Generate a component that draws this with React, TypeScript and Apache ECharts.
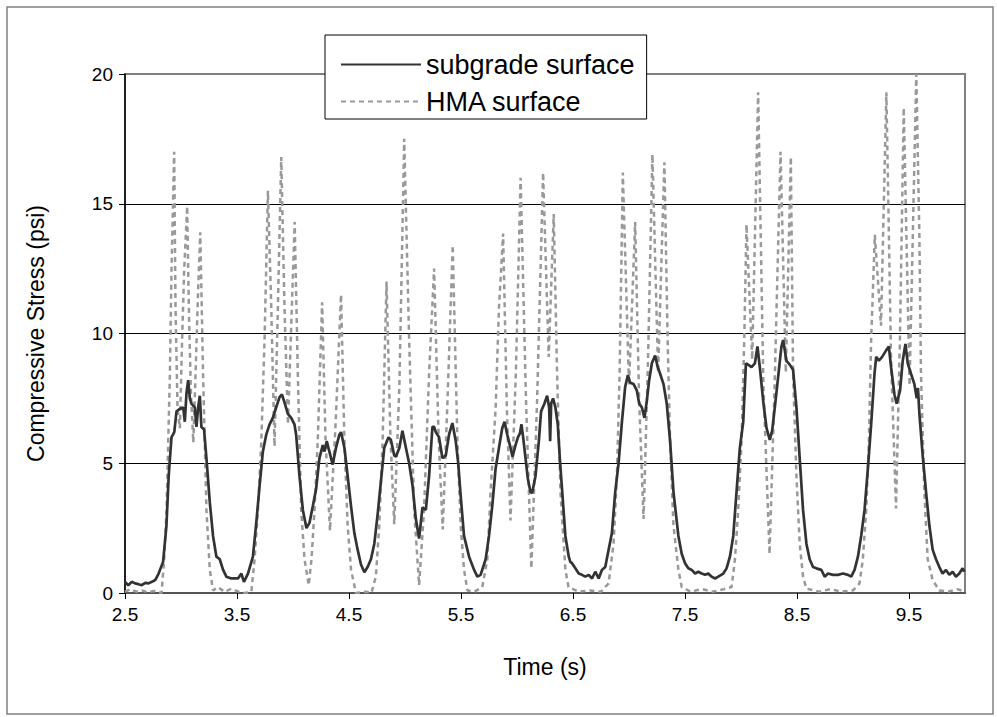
import React, { useEffect, useRef } from "react";
import * as echarts from "echarts";

const xTickValues = [2.5, 3.5, 4.5, 5.5, 6.5, 7.5, 8.5, 9.5];
const seriesNames = ["subgrade surface", "HMA surface"];

const subgradeTime = [
  2.5, 2.53, 2.56, 2.59, 2.62, 2.65, 2.68, 2.71, 2.74, 2.77, 2.8, 2.84, 2.87, 2.89, 2.915, 2.94, 2.96, 2.99, 3.02, 3.034,
  3.049, 3.064, 3.079, 3.093, 3.123, 3.138, 3.153, 3.168, 3.182, 3.206, 3.227, 3.257, 3.286, 3.316, 3.346, 3.375, 3.405, 3.45, 3.509, 3.539,
  3.562, 3.598, 3.642, 3.672, 3.702, 3.731, 3.761, 3.791, 3.82, 3.85, 3.88, 3.901, 3.924, 3.954, 3.984, 4.013, 4.028, 4.058, 4.088, 4.12,
  4.147, 4.177, 4.206, 4.236, 4.266, 4.281, 4.301, 4.325, 4.354, 4.384, 4.414, 4.429, 4.459, 4.488, 4.518, 4.548, 4.577, 4.607, 4.637, 4.666,
  4.696, 4.726, 4.755, 4.785, 4.815, 4.853, 4.874, 4.904, 4.919, 4.95, 4.977, 5.008, 5.037, 5.067, 5.097, 5.126, 5.156, 5.186, 5.215, 5.245,
  5.26, 5.275, 5.304, 5.334, 5.364, 5.393, 5.423, 5.438, 5.453, 5.474, 5.497, 5.527, 5.572, 5.616, 5.646, 5.675, 5.72, 5.75, 5.779, 5.809,
  5.839, 5.868, 5.889, 5.913, 5.942, 5.96, 5.987, 6.008, 6.026, 6.04, 6.055, 6.076, 6.097, 6.12, 6.135, 6.165, 6.195, 6.215, 6.245, 6.269,
  6.287, 6.296, 6.305, 6.322, 6.343, 6.364, 6.382, 6.402, 6.432, 6.462, 6.476, 6.491, 6.521, 6.551, 6.58, 6.61, 6.64, 6.67, 6.699, 6.729,
  6.758, 6.788, 6.818, 6.847, 6.877, 6.907, 6.937, 6.966, 6.99, 7.011, 7.041, 7.07, 7.091, 7.115, 7.138, 7.159, 7.18, 7.204, 7.233, 7.257,
  7.278, 7.308, 7.337, 7.367, 7.397, 7.441, 7.471, 7.5, 7.53, 7.56, 7.59, 7.619, 7.649, 7.679, 7.708, 7.738, 7.768, 7.797, 7.842, 7.871,
  7.901, 7.931, 7.96, 7.99, 8.02, 8.044, 8.064, 8.094, 8.124, 8.147, 8.168, 8.198, 8.228, 8.257, 8.278, 8.302, 8.331, 8.361, 8.376, 8.406,
  8.435, 8.45, 8.465, 8.495, 8.524, 8.554, 8.584, 8.613, 8.643, 8.673, 8.717, 8.747, 8.777, 8.821, 8.866, 8.91, 8.955, 8.984, 9.014, 9.044,
  9.073, 9.103, 9.133, 9.162, 9.192, 9.207, 9.231, 9.26, 9.296, 9.32, 9.34, 9.37, 9.39, 9.42, 9.444, 9.468, 9.489, 9.518, 9.548, 9.569,
  9.58, 9.593, 9.622, 9.652, 9.682, 9.711, 9.741, 9.771, 9.8, 9.83, 9.86, 9.89, 9.919, 9.949, 9.979, 9.993,
];
const subgradeStress = [
  0.43, 0.3, 0.43, 0.37, 0.34, 0.3, 0.39, 0.37, 0.43, 0.5, 0.75, 1.2, 2.6, 4.5, 6.0, 6.2, 7.0, 7.1, 7.15, 6.6,
  7.7, 8.2, 7.5, 7.3, 7.15, 6.4, 7.15, 7.6, 6.4, 6.3, 5.2, 3.5, 2.2, 1.4, 1.3, 0.9, 0.63, 0.56, 0.56, 0.75,
  0.43, 0.75, 1.4, 2.7, 4.15, 5.45, 6.1, 6.5, 6.75, 7.15, 7.55, 7.65, 7.35, 6.9, 6.75, 6.5, 6.1, 4.5, 3.2, 2.5,
  2.7, 3.35, 4.0, 5.2, 5.7, 5.45, 5.85, 5.45, 4.95, 5.6, 6.1, 6.2, 5.6, 4.5, 3.35, 2.3, 1.67, 1.1, 0.8, 1.0,
  1.3, 1.9, 3.0, 4.3, 5.6, 6.0, 5.9, 5.3, 5.25, 5.6, 6.25, 5.6, 5.0, 4.15, 2.85, 2.1, 3.3, 3.2, 4.5, 6.4,
  6.4, 6.2, 6.0, 5.2, 5.3, 6.1, 6.55, 6.2, 5.85, 5.05, 3.75, 2.2, 1.4, 0.9, 0.63, 0.7, 1.3, 2.2, 3.35, 4.8,
  5.6, 6.35, 6.6, 6.1, 5.6, 5.25, 5.7, 6.0, 6.15, 6.5, 6.0, 5.2, 4.4, 3.9, 3.85, 4.5, 5.85, 7.0, 7.3, 7.6,
  7.15, 5.85, 7.3, 7.5, 7.15, 6.5, 5.2, 4.0, 2.2, 1.4, 1.2, 1.15, 0.95, 0.75, 0.7, 0.63, 0.7, 0.56, 0.82, 0.56,
  0.89, 1.0, 1.67, 2.3, 3.9, 5.0, 6.6, 7.95, 8.4, 8.1, 8.05, 7.8, 7.3, 7.15, 6.75, 7.4, 8.2, 8.85, 9.15, 8.7,
  8.45, 8.05, 7.3, 5.85, 3.9, 2.2, 1.5, 1.15, 0.95, 0.89, 0.75, 0.82, 0.75, 0.7, 0.75, 0.63, 0.56, 0.63, 0.75, 0.95,
  1.4, 2.2, 3.9, 5.6, 6.6, 8.85, 8.8, 8.7, 8.85, 9.5, 8.7, 7.4, 6.35, 5.9, 6.25, 7.15, 8.3, 9.5, 9.75, 8.95,
  8.8, 8.7, 8.6, 7.15, 5.2, 3.2, 1.9, 1.3, 1.0, 0.95, 0.89, 0.63, 0.75, 0.7, 0.7, 0.75, 0.7, 0.63, 0.89, 1.4,
  2.2, 3.2, 4.8, 6.5, 8.45, 9.1, 8.95, 9.1, 9.35, 9.5, 8.7, 7.65, 7.3, 7.8, 8.95, 9.6, 8.85, 8.45, 8.05, 7.5,
  7.9, 6.9, 5.3, 3.9, 2.6, 1.67, 1.3, 1.0, 0.75, 0.89, 0.7, 0.82, 0.63, 0.75, 0.95, 0.82,
];

const hmaTime = [
  2.5, 2.55, 2.6, 2.65, 2.7, 2.76, 2.8, 2.826, 2.85, 2.871, 2.886, 2.901, 2.915, 2.939, 2.951, 2.969, 2.99, 3.01, 3.028, 3.055,
  3.07, 3.088, 3.11, 3.13, 3.153, 3.172, 3.197, 3.227, 3.257, 3.286, 3.33, 3.39, 3.45, 3.52, 3.568, 3.628, 3.657, 3.687, 3.717, 3.746,
  3.776, 3.806, 3.835, 3.865, 3.895, 3.924, 3.955, 3.985, 4.015, 4.043, 4.073, 4.103, 4.14, 4.165, 4.192, 4.221, 4.26, 4.29, 4.33, 4.38,
  4.429, 4.459, 4.488, 4.518, 4.562, 4.65, 4.7, 4.74, 4.77, 4.8, 4.835, 4.87, 4.904, 4.95, 4.993, 5.037, 5.082, 5.126, 5.17, 5.215,
  5.26, 5.3, 5.337, 5.38, 5.426, 5.468, 5.497, 5.527, 5.557, 5.62, 5.69, 5.735, 5.764, 5.809, 5.839, 5.876, 5.91, 5.942, 5.99, 6.032,
  6.08, 6.128, 6.18, 6.233, 6.283, 6.328, 6.358, 6.388, 6.432, 6.46, 6.55, 6.65, 6.75, 6.818, 6.862, 6.892, 6.916, 6.945, 7.0, 7.055,
  7.09, 7.13, 7.17, 7.209, 7.26, 7.316, 7.345, 7.367, 7.397, 7.441, 7.471, 7.55, 7.65, 7.75, 7.85, 7.916, 7.946, 7.975, 8.005, 8.029,
  8.049, 8.1, 8.153, 8.2, 8.255, 8.3, 8.353, 8.4, 8.445, 8.465, 8.495, 8.524, 8.554, 8.584, 8.7, 8.8, 8.9, 9.0, 9.058, 9.088,
  9.118, 9.142, 9.162, 9.195, 9.25, 9.298, 9.34, 9.384, 9.42, 9.453, 9.505, 9.565, 9.593, 9.607, 9.637, 9.667, 9.711, 9.77, 9.85, 9.93,
  10.0,
];
const hmaStress = [
  0.05, 0.15, 0.05, 0.1, 0.03, 0.08, 0.02, 0.0, 1.3, 3.2, 5.85, 8.45, 12.4, 17.0, 11.0, 7.1, 6.35, 9.75, 12.4, 14.9,
  11.0, 7.8, 5.8, 8.45, 11.7, 13.9, 8.45, 3.2, 0.9, 0.1, 0.23, 0.04, 0.17, 0.04, 0.0, 0.04, 1.3, 3.2, 5.85, 9.75,
  15.5, 11.0, 5.65, 11.0, 16.8, 11.0, 6.5, 10.4, 14.3, 8.45, 3.2, 1.3, 0.3, 1.3, 3.2, 5.85, 11.2, 6.0, 2.4, 6.5,
  11.5, 5.85, 2.6, 0.9, 0.0, 0.05, 0.0, 0.63, 2.6, 5.85, 12.0, 6.0, 2.65, 8.0, 17.5, 9.75, 3.2, 0.3, 3.2, 8.45,
  12.5, 6.0, 2.45, 7.5, 13.4, 5.85, 2.6, 0.9, 0.1, 0.05, 0.23, 1.3, 3.9, 7.1, 11.0, 13.85, 7.0, 2.8, 8.5, 16.0,
  7.5, 0.95, 7.5, 16.2, 9.1, 14.6, 8.45, 3.9, 0.9, 0.23, 0.05, 0.1, 0.05, 0.37, 1.9, 4.5, 8.45, 16.2, 8.0, 14.3,
  7.5, 2.85, 9.0, 16.9, 8.5, 16.6, 9.75, 5.85, 2.6, 0.9, 0.23, 0.05, 0.15, 0.05, 0.15, 0.23, 1.3, 3.2, 5.85, 9.75,
  14.2, 9.0, 19.3, 8.0, 1.5, 8.0, 17.0, 8.5, 16.8, 8.45, 4.5, 1.9, 0.63, 0.17, 0.05, 0.15, 0.05, 0.1, 0.37, 1.3,
  3.2, 5.85, 9.75, 13.8, 10.3, 19.3, 9.0, 3.26, 10.0, 18.7, 8.0, 20.0, 13.7, 8.45, 3.9, 1.3, 0.5, 0.1, 0.05, 0.15,
  0.05,
];

const FONT = "'Liberation Sans', Arial, sans-serif";

export default function App() {
  const ref = useRef<HTMLDivElement>(null);
  useEffect(() => {
    const chart = echarts.init(ref.current as HTMLDivElement, null, { renderer: "svg" });
    const subgradeData = subgradeTime.map((t, i) => [t, subgradeStress[i]]);
    const hmaData = hmaTime.map((t, i) => [t, hmaStress[i]]);
    chart.setOption({
      animation: false,
      backgroundColor: "#ffffff",
      textStyle: { fontFamily: FONT },
      grid: {
        left: 125,
        right: 32,
        top: 74,
        bottom: 124,
        show: true,
        borderColor: "#808080",
        borderWidth: 2,
        backgroundColor: "#ffffff",
      },
      graphic: [
        {
          type: "rect",
          z: -1,
          shape: { x: 7, y: 7, width: 986, height: 707 },
          style: { fill: "none", stroke: "#808080", lineWidth: 1.5 },
        },
      ],
      legend: {
        orient: "vertical",
        left: 325,
        top: 35,
        width: 322,
        backgroundColor: "#ffffff",
        borderColor: "#000000",
        borderWidth: 1,
        padding: [16, 12, 4, 15],
        itemWidth: 80,
        itemHeight: 20,
        itemGap: 10,
        itemStyle: { opacity: 0 },
        textStyle: { fontSize: 27, color: "#000000", fontFamily: FONT, padding: [0, 0, 0, 0] },
        data: seriesNames,
      },
      xAxis: {
        type: "value",
        min: 2.5,
        max: 10,
        name: "Time (s)",
        nameLocation: "middle",
        nameGap: 62,
        nameTextStyle: { fontSize: 23, color: "#000000", fontFamily: FONT },
        axisLine: { show: true, onZero: false, lineStyle: { color: "#555555", width: 2 } },
        axisTick: { show: true, customValues: xTickValues, length: 6, lineStyle: { color: "#000000", width: 1 } },
        axisLabel: { customValues: xTickValues, fontSize: 19, color: "#000000", margin: 12, fontFamily: FONT },
        splitLine: { show: false },
      },
      yAxis: {
        type: "value",
        min: 0,
        max: 20,
        interval: 5,
        name: "Compressive Stress (psi)",
        nameLocation: "middle",
        nameGap: 78,
        nameTextStyle: { fontSize: 23, color: "#000000", fontFamily: FONT },
        axisLine: { show: true, onZero: false, lineStyle: { color: "#000000", width: 1.5 } },
        axisTick: { show: true, length: 6, lineStyle: { color: "#000000", width: 1 } },
        axisLabel: { fontSize: 19, color: "#000000", margin: 12, fontFamily: FONT },
        splitLine: { show: true, showMaxLine: false, showMinLine: false, lineStyle: { color: "#000000", width: 1 } },
      },
      series: [
        {
          name: seriesNames[0],
          type: "line",
          data: subgradeData,
          symbol: "none",
          showSymbol: false,
          z: 4,
          lineStyle: { color: "#333333", width: 2.7 },
          itemStyle: { color: "#333333" },
        },
        {
          name: seriesNames[1],
          type: "line",
          data: hmaData,
          symbol: "none",
          showSymbol: false,
          z: 3,
          lineStyle: { color: "#999999", width: 2.5, type: [5, 4] },
          itemStyle: { color: "#999999" },
        },
      ],
    });
    return () => chart.dispose();
  }, []);
  return (
    <div
      ref={ref}
      style={{ position: "fixed", left: 0, top: 0, width: 997, height: 717, background: "#ffffff" }}
    />
  );
}
